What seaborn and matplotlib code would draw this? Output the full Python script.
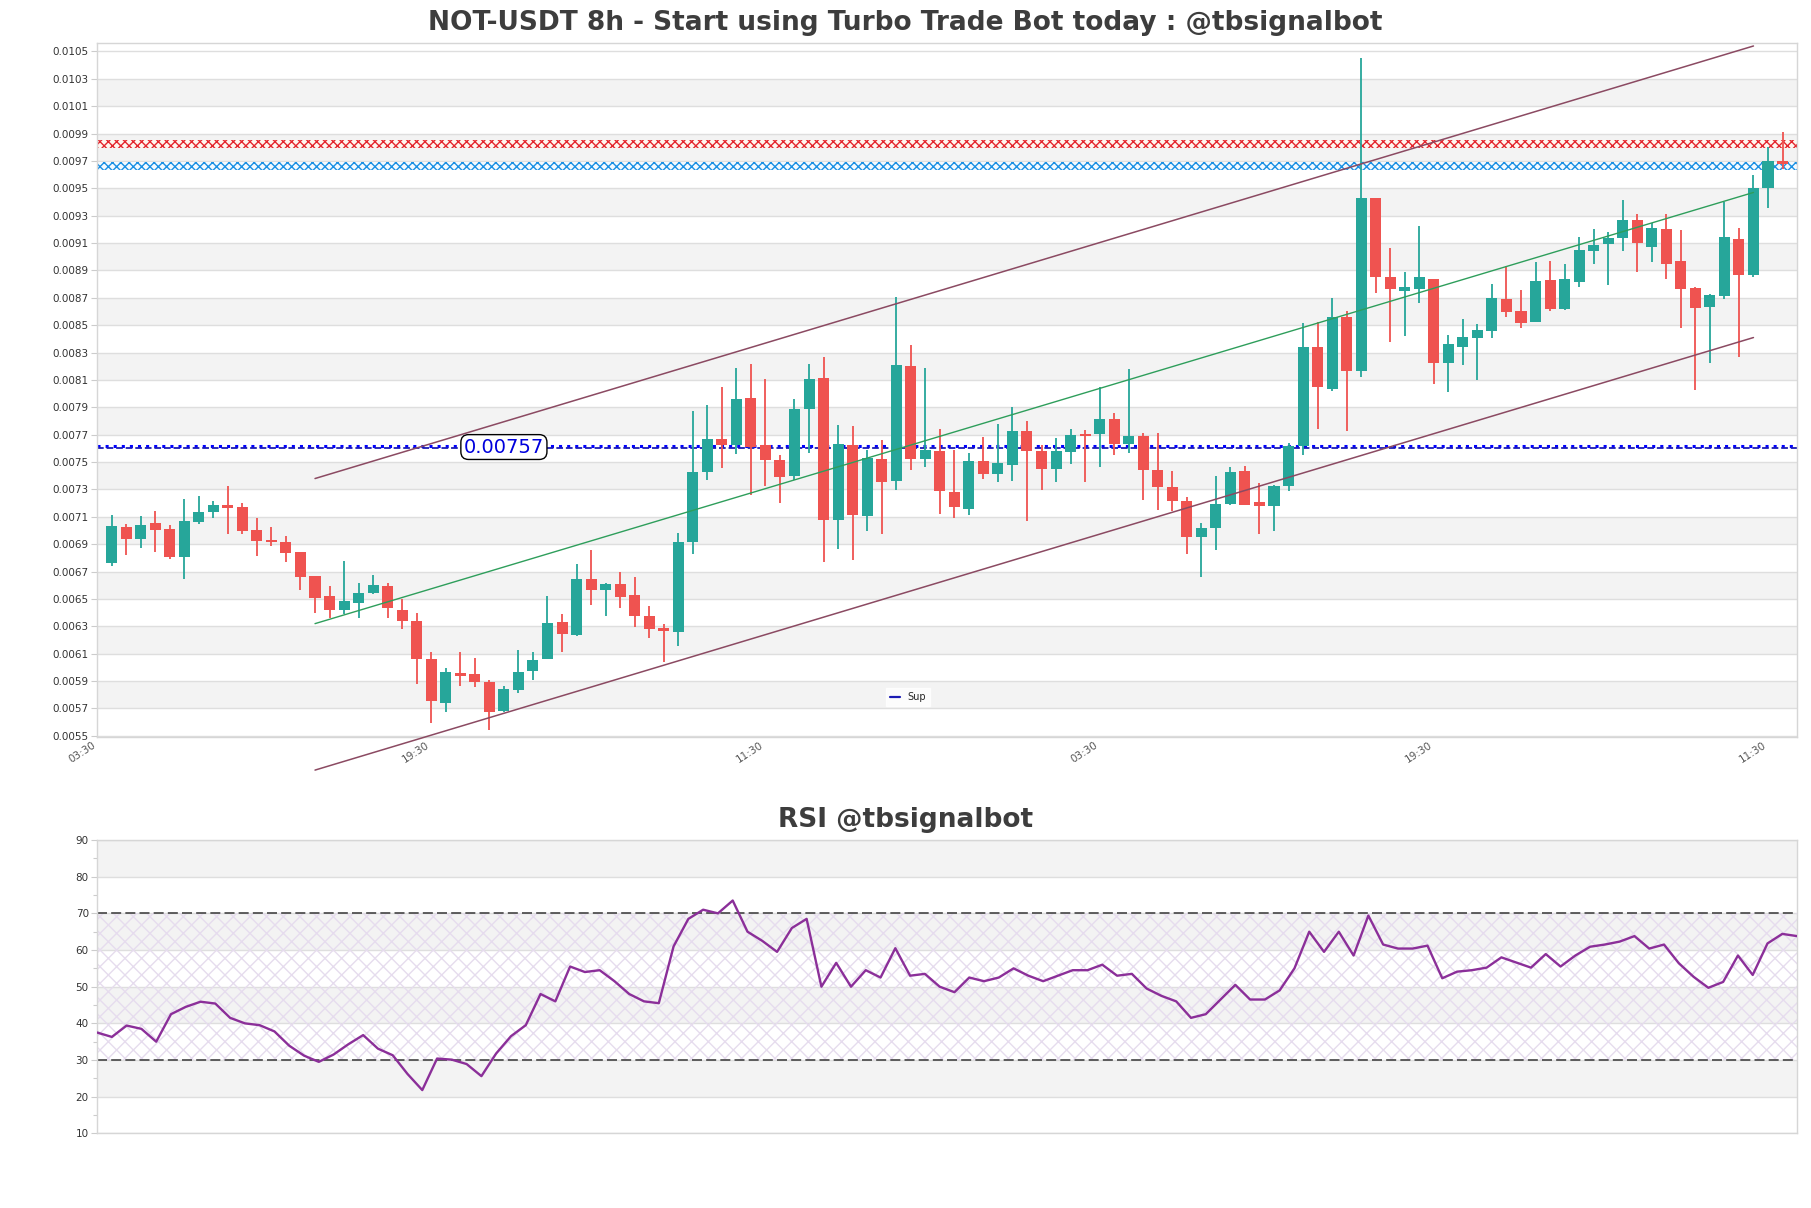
import numpy as np
import pandas as pd
import matplotlib
matplotlib.use("Agg")
import matplotlib.pyplot as plt
from matplotlib.lines import Line2D
import seaborn as sns

# --- candles (8h) ---
opens = [0.006764, 0.007025, 0.006937, 0.007054, 0.007010, 0.006808, 0.007064, 0.007136, 0.007188, 0.007171,
         0.007003, 0.006930, 0.006915, 0.006842, 0.006667, 0.006521, 0.006421, 0.006470, 0.006543, 0.006594,
         0.006422, 0.006342, 0.006065, 0.005741, 0.005957, 0.005955, 0.005897, 0.005680, 0.005838, 0.005972,
         0.006062, 0.006335, 0.006237, 0.006646, 0.006568, 0.006612, 0.006532, 0.006378, 0.006286, 0.006257,
         0.006914, 0.007425, 0.007668, 0.007622, 0.007967, 0.007622, 0.007517, 0.007395, 0.007885, 0.008116,
         0.007077, 0.007627, 0.007104, 0.007524, 0.007359, 0.008203, 0.007522, 0.007583, 0.007284, 0.007157,
         0.007510, 0.007410, 0.007476, 0.007729, 0.007583, 0.007451, 0.007571, 0.007707, 0.007707, 0.007816,
         0.007632, 0.007692, 0.007444, 0.007318, 0.007218, 0.006950, 0.007018, 0.007194, 0.007437, 0.007211,
         0.007177, 0.007327, 0.007619, 0.008339, 0.008035, 0.008558, 0.008168, 0.009426, 0.008850, 0.008752,
         0.008767, 0.008838, 0.008227, 0.008339, 0.008409, 0.008460, 0.008694, 0.008604, 0.008526, 0.008830,
         0.008619, 0.008818, 0.009044, 0.009095, 0.009139, 0.009268, 0.009074, 0.009202, 0.008971, 0.008769,
         0.008636, 0.008716, 0.009127, 0.008869, 0.009504, 0.009699]
highs = [0.007112, 0.007046, 0.007105, 0.007141, 0.007039, 0.007229, 0.007253, 0.007214, 0.007326, 0.007200,
         0.007090, 0.007027, 0.006961, 0.006845, 0.006670, 0.006594, 0.006776, 0.006618, 0.006677, 0.006618,
         0.006500, 0.006398, 0.006113, 0.005999, 0.006113, 0.006072, 0.005906, 0.005867, 0.006130, 0.006113,
         0.006524, 0.006393, 0.006758, 0.006860, 0.006615, 0.006699, 0.006663, 0.006451, 0.006318, 0.006982,
         0.007875, 0.007919, 0.008047, 0.008186, 0.008218, 0.008106, 0.007554, 0.007962, 0.008218, 0.008267,
         0.007770, 0.007765, 0.007590, 0.007663, 0.008709, 0.008357, 0.008186, 0.007741, 0.007590, 0.007566,
         0.007687, 0.007780, 0.007902, 0.007802, 0.007622, 0.007678, 0.007743, 0.007736, 0.008048, 0.007858,
         0.008179, 0.007712, 0.007712, 0.007437, 0.007245, 0.007055, 0.007400, 0.007461, 0.007473, 0.007347,
         0.007335, 0.007639, 0.008515, 0.008520, 0.008697, 0.008607, 0.010455, 0.009430, 0.009061, 0.008886,
         0.009224, 0.008840, 0.008429, 0.008543, 0.008509, 0.008801, 0.008932, 0.008757, 0.008964, 0.008971,
         0.008947, 0.009147, 0.009200, 0.009178, 0.009414, 0.009309, 0.009249, 0.009312, 0.009195, 0.008777,
         0.008728, 0.009397, 0.009207, 0.009601, 0.009803, 0.009908]
lows = [0.006742, 0.006823, 0.006871, 0.006845, 0.006791, 0.006645, 0.007051, 0.007093, 0.006973, 0.006973,
        0.006813, 0.006888, 0.006769, 0.006565, 0.006397, 0.006358, 0.006390, 0.006363, 0.006540, 0.006363,
        0.006281, 0.005880, 0.005595, 0.005675, 0.005863, 0.005855, 0.005546, 0.005673, 0.005814, 0.005906,
        0.006060, 0.006116, 0.006228, 0.006454, 0.006378, 0.006432, 0.006293, 0.006215, 0.006038, 0.006154,
        0.006828, 0.007371, 0.007456, 0.007558, 0.007262, 0.007323, 0.007201, 0.007371, 0.007566, 0.006768,
        0.006865, 0.006787, 0.006994, 0.006975, 0.007293, 0.007439, 0.007464, 0.007121, 0.007091, 0.007116,
        0.007376, 0.007352, 0.007359, 0.007067, 0.007298, 0.007352, 0.007488, 0.007352, 0.007461, 0.007549,
        0.007566, 0.007225, 0.007147, 0.007140, 0.006831, 0.006658, 0.006855, 0.007190, 0.007184, 0.006977,
        0.006994, 0.007286, 0.007549, 0.007743, 0.008023, 0.007724, 0.008125, 0.008738, 0.008380, 0.008424,
        0.008660, 0.008069, 0.008010, 0.008210, 0.008100, 0.008404, 0.008558, 0.008477, 0.008520, 0.008606,
        0.008610, 0.008782, 0.008947, 0.008794, 0.009044, 0.008891, 0.008964, 0.008835, 0.008477, 0.008027,
        0.008222, 0.008689, 0.008266, 0.008850, 0.009358, 0.009638]
closes = [0.007032, 0.006937, 0.007044, 0.007005, 0.006808, 0.007068, 0.007134, 0.007185, 0.007166, 0.006995,
          0.006922, 0.006915, 0.006837, 0.006662, 0.006506, 0.006421, 0.006484, 0.006543, 0.006601, 0.006431,
          0.006337, 0.006062, 0.005753, 0.005970, 0.005940, 0.005892, 0.005673, 0.005846, 0.005967, 0.006057,
          0.006325, 0.006242, 0.006648, 0.006568, 0.006612, 0.006512, 0.006373, 0.006281, 0.006266, 0.006918,
          0.007427, 0.007668, 0.007622, 0.007960, 0.007614, 0.007517, 0.007391, 0.007889, 0.008108, 0.007077,
          0.007634, 0.007111, 0.007527, 0.007354, 0.008211, 0.007524, 0.007590, 0.007288, 0.007169, 0.007510,
          0.007410, 0.007495, 0.007729, 0.007578, 0.007451, 0.007578, 0.007700, 0.007692, 0.007816, 0.007632,
          0.007692, 0.007444, 0.007315, 0.007213, 0.006950, 0.007018, 0.007196, 0.007427, 0.007189, 0.007177,
          0.007327, 0.007619, 0.008339, 0.008052, 0.008558, 0.008169, 0.009426, 0.008855, 0.008762, 0.008777,
          0.008850, 0.008222, 0.008363, 0.008417, 0.008465, 0.008701, 0.008599, 0.008519, 0.008825, 0.008619,
          0.008838, 0.009049, 0.009086, 0.009137, 0.009268, 0.009103, 0.009207, 0.008949, 0.008767, 0.008628,
          0.008721, 0.009142, 0.008869, 0.009502, 0.009699, 0.009679]

rsi = [37.5, 36.3, 39.4, 38.5, 35.0, 42.5, 44.5, 45.9, 45.4, 41.5,
       40.0, 39.5, 37.8, 33.9, 31.2, 29.5, 31.5, 34.3, 36.8, 33.1,
       31.3, 26.2, 21.8, 30.4, 30.1, 28.9, 25.6, 31.8, 36.5, 39.5,
       48.0, 46.0, 55.5, 54.0, 54.5, 51.5, 48.0, 46.0, 45.5, 61.0,
       68.5, 71.0, 70.0, 73.5, 65.0, 62.5, 59.5, 66.0, 68.5, 50.0,
       56.5, 50.0, 54.5, 52.5, 60.5, 53.0, 53.5, 50.0, 48.5, 52.5,
       51.5, 52.5, 55.0, 53.0, 51.5, 53.0, 54.5, 54.5, 56.0, 53.0,
       53.5, 49.5, 47.5, 46.0, 41.5, 42.5, 46.5, 50.5, 46.5, 46.5,
       49.0, 55.0, 65.0, 59.5, 65.0, 58.5, 69.4, 61.5, 60.4, 60.4,
       61.2, 52.3, 54.1, 54.5, 55.2, 58.0, 56.6, 55.2, 58.9, 55.5,
       58.5, 60.9, 61.5, 62.3, 63.8, 60.4, 61.5, 56.4, 52.7, 49.7,
       51.3, 58.5, 53.2, 61.8, 64.4, 63.8]

tick_pos = [-1, 22, 45, 68, 91, 114]
tick_labels = ["03:30", "19:30", "11:30", "03:30", "19:30", "11:30"]

sup_dotted = 0.00762
sup_dashed = 0.00760
sup_text = "0.00757"
sup_text_x = 27
red_zone = [0.009796, 0.009850]
blue_zone = [0.009634, 0.009690]

chan_x = [14, 113]
chan_upper = [0.00738, 0.01054]
chan_mid = [0.00632, 0.00947]
chan_lower = [0.00525, 0.00841]

df = pd.DataFrame({"open": opens, "high": highs, "low": lows, "close": closes})
df["i"] = np.arange(len(df))
df["up"] = df["close"] >= df["open"]

UP = "#26a69a"
DOWN = "#ef5350"
BAND = "#f3f3f3"

sns.set_theme(style="white")
plt.rcParams["font.family"] = ["DejaVu Sans"]
plt.rcParams["hatch.linewidth"] = 1.0

fig = plt.figure(figsize=(18.11, 12.08), dpi=100)
ax = fig.add_axes([0.0536, 0.3897, 0.9387, 0.5745])
ax2 = fig.add_axes([0.0536, 0.0618, 0.9387, 0.2428])

# ---------- price panel ----------
ax.set_xlim(-1, len(df))
ax.set_ylim(0.00549, 0.01056)
for lo in np.arange(0.0057, 0.0105, 0.0004):
    ax.axhspan(lo, lo + 0.0002, color=BAND, lw=0, zorder=0)
ax.set_yticks(np.arange(0.0055, 0.01051, 0.0002))
ax.yaxis.set_major_formatter(matplotlib.ticker.FormatStrFormatter("%.4f"))
ax.grid(axis="y", color="#dedede", lw=1, zorder=0.5)
ax.grid(axis="x", visible=False)

ax.axhspan(*red_zone, facecolor="#fff6f0", edgecolor="#e3262e", hatch="xxxx", lw=0, zorder=1)
ax.axhspan(*blue_zone, facecolor="#f4faff", edgecolor="#1a8fe3", hatch="xxxx", lw=0, zorder=1)

colors = np.where(df["up"], UP, DOWN)
ax.vlines(df["i"], df["low"], df["high"], colors=colors, lw=1.3, zorder=3)
body_lo = df[["open", "close"]].min(axis=1)
body_h = (df["close"] - df["open"]).abs().clip(lower=0.000004)
ax.bar(df["i"], body_h, bottom=body_lo, width=0.76, color=colors, lw=0, zorder=4)

ax.axhline(sup_dotted, color="#0000ff", ls=":", lw=2.2, zorder=2)
ax.axhline(sup_dashed, color="#1c1cb4", ls="--", lw=1.3, zorder=2)
ax.text(sup_text_x, (sup_dotted + sup_dashed) / 2, sup_text, color="#0000dd", fontsize=14,
        ha="center", va="center", zorder=6,
        bbox=dict(boxstyle="round,pad=0.15,rounding_size=0.4", fc="white", ec="black", lw=1))

ax.plot(chan_x, chan_upper, color="#8b4a62", lw=1.1, zorder=5, clip_on=False)
ax.plot(chan_x, chan_mid, color="#2e9e5b", lw=1.0, zorder=5)
ax.plot(chan_x, chan_lower, color="#8b4a62", lw=1.1, zorder=5, clip_on=False)

leg = ax.legend(handles=[Line2D([], [], color="#1c1cb4", lw=1.6)], labels=["Sup"],
                loc="lower center", bbox_to_anchor=(0.477, 0.045), borderaxespad=0, fontsize=7,
                handlelength=1.0, frameon=True, fancybox=False)
leg.get_frame().set_facecolor("white")
leg.get_frame().set_edgecolor("white")

ax.set_xticks(tick_pos)
ax.set_xticklabels(tick_labels, rotation=33, ha="right", fontsize=7.5, color="#555555")
ax.tick_params(axis="x", length=0, pad=2)
ax.tick_params(axis="y", length=4, width=0.8, color="#cccccc", labelsize=7.5, labelcolor="#333333", pad=2, left=True)
for s in ax.spines.values():
    s.set_color("#d6d6d6")
    s.set_linewidth(1)

# ---------- RSI panel ----------
ax2.set_xlim(0, len(rsi) - 1)
ax2.set_ylim(10, 90)
for lo in (20, 40, 60, 80):
    ax2.axhspan(lo, lo + 10, color=BAND, lw=0, zorder=0)
ax2.fill_between([0, len(rsi) - 1], 30, 70, facecolor="none", edgecolor="#e6dcee", hatch="xx", lw=0, zorder=1)
ax2.axhline(70, color="#444444", ls=(0, (6, 2.5)), lw=1.2, zorder=2)
ax2.axhline(30, color="#444444", ls=(0, (6, 2.5)), lw=1.2, zorder=2)
sns.lineplot(x=np.arange(len(rsi)), y=rsi, ax=ax2, color="#8b2f99", lw=1.7, zorder=4)
ax2.set_yticks(np.arange(10, 91, 10))
ax2.set_yticks(np.arange(15, 90, 10), minor=True)
ax2.grid(axis="y", which="major", color="#dedede", lw=1, zorder=0.5)
ax2.set_xticks([])
ax2.tick_params(axis="y", which="major", length=4, width=0.8, color="#cccccc", labelsize=7.5,
                labelcolor="#333333", pad=2, left=True)
ax2.tick_params(axis="y", which="minor", length=3, width=0.8, color="#cccccc", left=True)
for s in ax2.spines.values():
    s.set_color("#d6d6d6")
    s.set_linewidth(1)

fig.text(0.5, 0.981, "NOT-USDT 8h - Start using Turbo Trade Bot today : @tbsignalbot",
         ha="center", va="center", fontsize=19, fontweight="bold", color="#3d3d3d")
fig.text(0.5, 0.3212, "RSI @tbsignalbot", ha="center", va="center", fontsize=19,
         fontweight="bold", color="#3d3d3d")

fig.savefig("out.png", dpi=100)
